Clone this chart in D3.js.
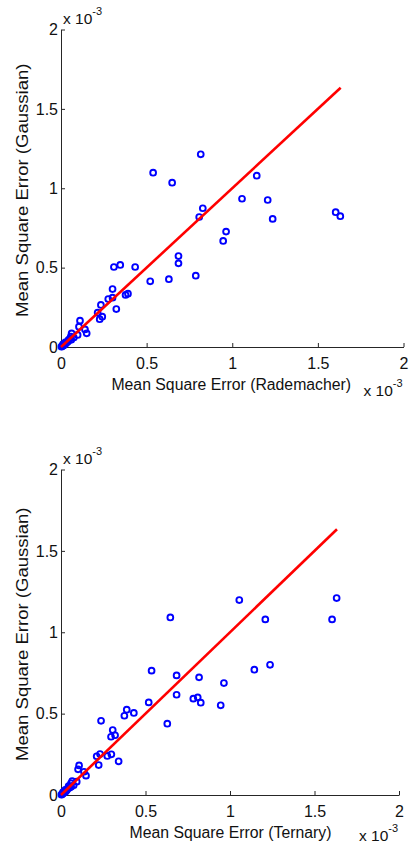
<!DOCTYPE html>
<html>
<head>
<meta charset="utf-8">
<script src="https://cdn.jsdelivr.net/npm/d3@7"></script>
<style>
  html, body { margin: 0; padding: 0; background: #fff; }
  svg { display: block; font-family: "Liberation Sans", Arial, Helvetica, sans-serif; }
</style>
</head>
<body>
<svg id="chart" width="410" height="846"></svg>
<script>
// ---------- data (values in units of 1e-3) ----------
const xTicks = [0, 0.5, 1, 1.5, 2];
const yTicks = [0, 0.5, 1, 1.5, 2];
const xTickLabels = ["0", "0.5", "1", "1.5", "2"];
const yTickLabels = ["0", "0.5", "1", "1.5", "2"];

const radX = [0.538, 0.649, 0.816, 1.143, 1.057, 1.207, 1.236, 1.604, 1.631, 0.828,
              0.807, 0.964, 0.947, 0.686, 0.686, 0.787, 0.630, 0.521, 0.433, 0.346,
              0.309, 0.301, 0.301, 0.276, 0.391, 0.377, 0.323, 0.233, 0.214, 0.241,
              0.226, 0.111, 0.105, 0.140, 0.150, 0.097, 0.062, 0.057, 0.043, 0.075,
              0.050, 0.035, 0.028, 0.020, 0.015, 0.010, 0.005, 0.003, 0.025, 0.040,
              0.060, 0.012];
const radY = [1.098, 1.035, 1.214, 1.079, 0.934, 0.926, 0.807, 0.849, 0.824, 0.874,
              0.819, 0.727, 0.668, 0.573, 0.527, 0.449, 0.427, 0.414, 0.504, 0.517,
              0.504, 0.365, 0.311, 0.302, 0.336, 0.328, 0.239, 0.265, 0.216, 0.191,
              0.175, 0.166, 0.128, 0.111, 0.086, 0.076, 0.086, 0.065, 0.044, 0.060,
              0.050, 0.030, 0.022, 0.015, 0.010, 0.008, 0.004, 0.002, 0.030, 0.035,
              0.045, 0.018];

const terX = [0.647, 1.055, 1.209, 1.604, 1.631, 0.536, 0.684, 0.817, 0.964, 1.144,
              1.237, 0.684, 0.783, 0.809, 0.827, 0.945, 0.519, 0.629, 0.431, 0.389,
              0.375, 0.237, 0.306, 0.320, 0.296, 0.341, 0.298, 0.274, 0.231, 0.211,
              0.223, 0.107, 0.101, 0.136, 0.148, 0.093, 0.059, 0.075, 0.050, 0.040,
              0.035, 0.028, 0.020, 0.015, 0.010, 0.005, 0.003, 0.025, 0.060, 0.045,
              0.012, 0.066];
const terY = [1.091, 1.198, 1.079, 1.079, 1.210, 0.764, 0.735, 0.723, 0.688, 0.770,
              0.800, 0.616, 0.592, 0.600, 0.567, 0.551, 0.569, 0.438, 0.504, 0.524,
              0.487, 0.456, 0.399, 0.367, 0.358, 0.207, 0.250, 0.240, 0.252, 0.238,
              0.184, 0.182, 0.158, 0.143, 0.119, 0.082, 0.072, 0.060, 0.045, 0.040,
              0.030, 0.022, 0.015, 0.012, 0.008, 0.004, 0.002, 0.032, 0.050, 0.055,
              0.018, 0.085];

// identity reference line endpoints
const lineVals = [0, 1.633];

const xLabels = ["Mean Square Error (Rademacher)", "Mean Square Error (Ternary)"];
const yLabel = "Mean Square Error (Gaussian)";

// ---------- drawing ----------
const svg = d3.select("#chart");
const INK = "#262626";

const panels = [
  { xs: radX, ys: radY, xlab: xLabels[0], xr: [61, 403.5], yr: [347, 29.5], exY: 49 },
  { xs: terX, ys: terY, xlab: xLabels[1], xr: [61, 399], yr: [795, 469.5], exY: 46 }
];

panels.forEach(p => {
  const x = d3.scaleLinear().domain([0, 2]).range(p.xr);
  const y = d3.scaleLinear().domain([0, 2]).range(p.yr);
  const g = svg.append("g");

  // axes
  const xAxis = d3.axisBottom(x).tickValues(xTicks)
    .tickFormat((d, i) => xTickLabels[i])
    .tickSizeInner(-4).tickSizeOuter(0).tickPadding(11);
  const yAxis = d3.axisLeft(y).tickValues(yTicks)
    .tickFormat((d, i) => yTickLabels[i])
    .tickSizeInner(-4).tickSizeOuter(0).tickPadding(3);

  const gx = g.append("g").attr("transform", `translate(0,${y(0)})`).call(xAxis);
  const gy = g.append("g").attr("transform", `translate(${x(0)},0)`).call(yAxis);
  [gx, gy].forEach(a => {
    a.selectAll("path, line").attr("stroke", INK).attr("stroke-width", 1);
    a.selectAll("text").attr("fill", "#111").attr("font-size", 16)
      .attr("font-family", "'Liberation Sans', Arial, sans-serif");
  });

  // points
  const pts = p.xs.map((v, i) => [v, p.ys[i]]);
  g.append("g").selectAll("circle").data(pts).join("circle")
    .attr("cx", d => x(d[0])).attr("cy", d => y(d[1])).attr("r", 2.9)
    .attr("fill", "none").attr("stroke", "#0000ff").attr("stroke-width", 1.9);

  // red identity line
  g.append("path")
    .datum(lineVals.map(v => [v, v]))
    .attr("d", d3.line().x(d => x(d[0])).y(d => y(d[1])))
    .attr("stroke", "#ff0000").attr("stroke-width", 2.6).attr("fill", "none");

  // x label
  g.append("text")
    .attr("x", (p.xr[0] + p.xr[1]) / 2 + (p === panels[0] ? -1 : 0.5))
    .attr("y", y(0) + 43)
    .attr("text-anchor", "middle").attr("font-size", 15.8).attr("fill", "#111")
    .text(p.xlab);

  // y label
  const ymid = (p.yr[0] + p.yr[1]) / 2 + 2;
  g.append("text")
    .attr("transform", `translate(28,${ymid}) rotate(-90) scale(1.16,1)`)
    .attr("text-anchor", "middle").attr("font-size", 16).attr("fill", "#111")
    .text(yLabel);

  // exponent labels
  const ex1 = g.append("text").attr("x", x(0) + 2).attr("y", y(2) - 6)
    .attr("font-size", 15.5).attr("fill", "#111");
  ex1.append("tspan").text("x 10");
  ex1.append("tspan").attr("dy", -9).attr("font-size", 11).text("-3");

  const ex2 = g.append("text").attr("x", p.xr[1] - 40).attr("y", y(0) + p.exY)
    .attr("font-size", 15.5).attr("fill", "#111");
  ex2.append("tspan").text("x 10");
  ex2.append("tspan").attr("dy", -9).attr("font-size", 11).text("-3");
});
</script>
</body>
</html>
